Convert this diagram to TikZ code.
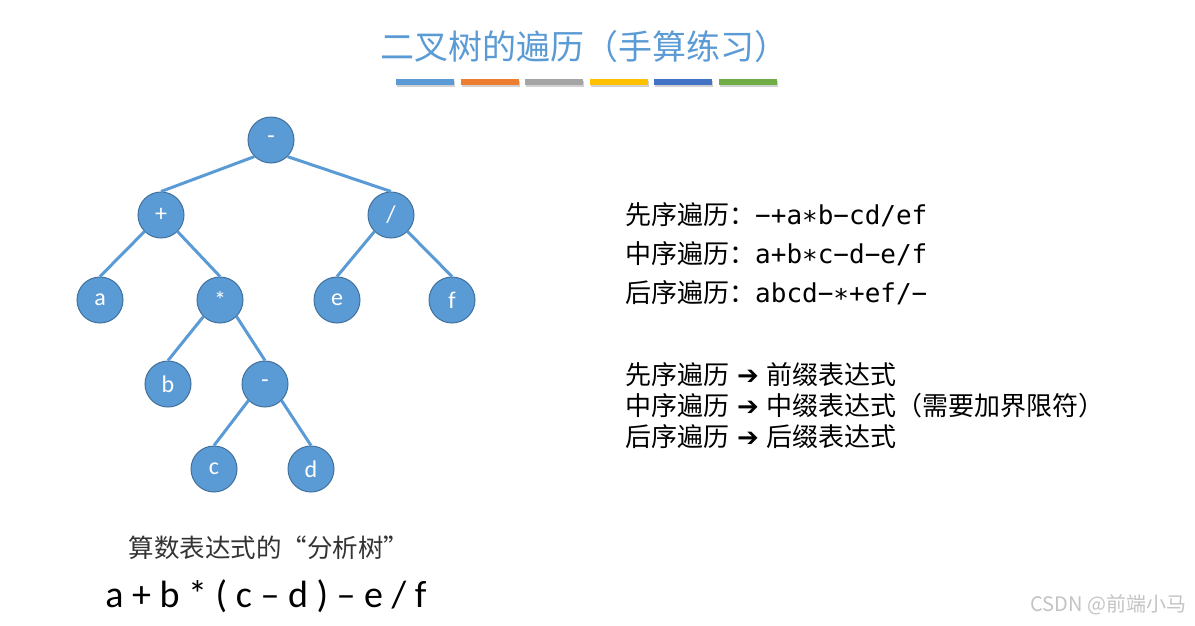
\documentclass[tikz,border=0pt]{standalone}
\usepackage{fontspec}
\setmainfont{Carlito}
\newfontfamily\cjk{Noto Sans CJK SC}
\newfontfamily\mono{DejaVu Sans Mono}
\newfontfamily\symb{DejaVu Sans}

\definecolor{nodeblue}{HTML}{5B9BD5}
\definecolor{nodeline}{HTML}{41719C}
\definecolor{barorange}{HTML}{ED7D31}
\definecolor{bargray}{HTML}{A5A5A5}
\definecolor{baryellow}{HTML}{FFC000}
\definecolor{bardblue}{HTML}{4472C4}
\definecolor{bargreen}{HTML}{70AD47}
\definecolor{marktext}{HTML}{C4C4C4}

\newcommand{\maparrow}{\hspace{8pt}{\symb ➔}\hspace{8pt}}

\tikzset{
  treenode/.style={shape=circle,draw=nodeline,line width=1pt,fill=nodeblue,
    minimum size=46pt,inner sep=0pt,text=white,font=\fontsize{24}{28}\selectfont},
  treeedge/.style={draw=nodeblue,line width=3pt},
  colorbar/.style={minimum width=58pt,minimum height=6pt,inner sep=0pt},
  orderline/.style={anchor=west,inner sep=0pt,font=\fontsize{26}{30}\selectfont},
  mapline/.style={anchor=west,inner sep=0pt,font=\cjk\fontsize{26}{30}\selectfont}
}

\begin{document}
\begin{tikzpicture}[x=1pt,y=-1pt]
  \useasboundingbox[fill=white] (0,0) rectangle (1195,625);

  % title and bars
  \node[text=nodeblue,font=\cjk\fontsize{34}{40}\selectfont] (title) at (584,47) {二叉树的遍历（手算练习）};
  \foreach \i/\c in {0/nodeblue,1/barorange,2/bargray,3/baryellow,4/bardblue,5/bargreen}{
    \fill[black!18] (397+64.5*\i,81) rectangle ++(58,6);
    \node[colorbar,fill=\c] (bar\i) at (425+64.5*\i,82) {};
  }

  % tree
  \node[treenode] (root) at (271,140) {-};
  \node[treenode] (plus) at (161,215) {+};
  \node[treenode] (div) at (391,215) {/};
  \node[treenode] (a) at (100,300) {a};
  \node[treenode] (times) at (220,300) {*};
  \node[treenode] (e) at (337,300) {e};
  \node[treenode] (f) at (452,300) {f};
  \node[treenode] (b) at (168,384) {b};
  \node[treenode] (minus) at (265,384) {-};
  \node[treenode] (c) at (214,469) {c};
  \node[treenode] (d) at (311,469) {d};

  \draw[treeedge] (root.south west) -- (plus.north);
  \draw[treeedge] (root.south east) -- (div.north);
  \draw[treeedge] (plus.south west) -- (a.north);
  \draw[treeedge] (plus.south east) -- (times.north);
  \draw[treeedge] (div.south west) -- (e.north);
  \draw[treeedge] (div.south east) -- (f.north);
  \draw[treeedge] (times.south west) -- (b.north);
  \draw[treeedge] (times.south east) -- (minus.north);
  \draw[treeedge] (minus.south west) -- (c.north);
  \draw[treeedge] (minus.south east) -- (d.north);

  % traversal results
  \node[orderline] (pre) at (625,215) {{\cjk 先序遍历：}{\mono −+a∗b−cd/ef}};
  \node[orderline] (in) at (625,254) {{\cjk 中序遍历：}{\mono a+b∗c−d−e/f}};
  \node[orderline] (post) at (625,293) {{\cjk 后序遍历：}{\mono abcd−∗+ef/−}};

  \node[mapline] (premap) at (625,375) {先序遍历\maparrow 前缀表达式};
  \node[mapline] (inmap) at (625,406) {中序遍历\maparrow 中缀表达式（需要加界限符）};
  \node[mapline] (postmap) at (625,437) {后序遍历\maparrow 后缀表达式};

  % caption
  \node[font=\cjk\fontsize{25.5}{30}\selectfont,text=black!80] (caption) at (269,548) {算数表达式的“分析树”};
  \node[font=\fontsize{38}{44}\selectfont] (formula) at (266,596) {a + b * ( c – d ) – e / f};

  \node[anchor=east,text=marktext,font=\cjk\fontsize{20}{24}\selectfont] (mark) at (1190,605) {CSDN @前端小马};
\end{tikzpicture}
\end{document}
